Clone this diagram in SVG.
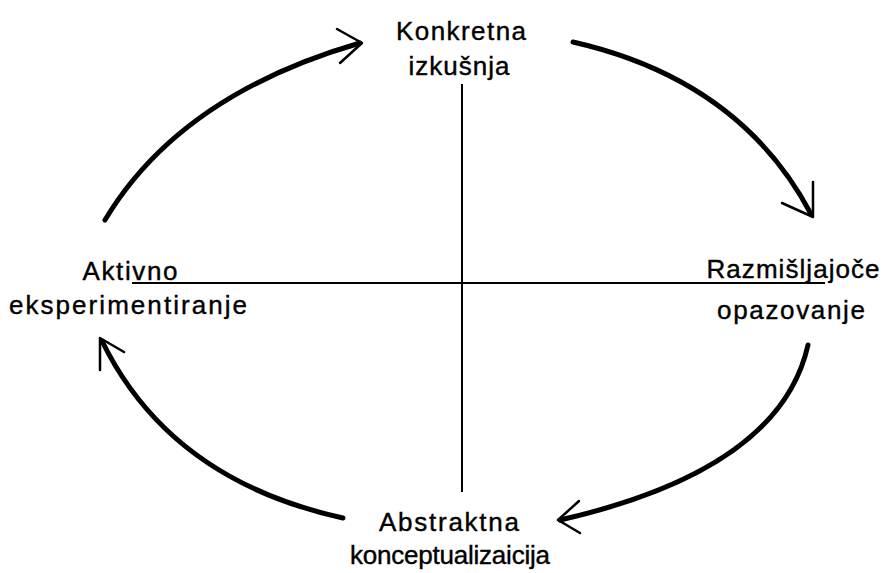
<svg xmlns="http://www.w3.org/2000/svg" width="890" height="573" viewBox="0 0 890 573">
<style>
.lbl{font-family:"Liberation Sans",Arial,sans-serif;font-size:26px;fill:#000;stroke:#000;stroke-width:0.4;text-anchor:middle}
.axis{stroke:#000;stroke-width:2;fill:none}
.arc{stroke:#000;stroke-width:5;fill:none;stroke-linecap:round}
.head{stroke:#000;stroke-width:2.5;fill:none;stroke-linecap:round;stroke-linejoin:round}
</style>
<rect width="890" height="573" fill="#fff"/>
<g id="axes">
<line class="axis" x1="462" y1="84" x2="462" y2="492"/>
<line class="axis" x1="132" y1="283" x2="825" y2="283"/>
</g>
<g id="connectors">
<path class="arc" d="M105,220 Q180,95 360,43"/>
<path class="head" d="M337,29 L362,43 L340,63"/>
<path class="arc" d="M573,42 Q740,80 811,214"/>
<path class="head" d="M813,182 L813,217 L782,203"/>
<path class="arc" d="M808,345 Q780,470 560,520"/>
<path class="head" d="M579,501 L558,520 L580,533"/>
<path class="arc" d="M343,518 Q170,480 102,341"/>
<path class="head" d="M124,352 L100,338 L100,370"/>
</g>
<g id="node-konkretna">
<text class="lbl" x="461" y="40" textLength="130" lengthAdjust="spacing">Konkretna</text>
<text class="lbl" x="459" y="75" textLength="101" lengthAdjust="spacing">izkušnja</text>
</g>
<g id="node-razmisljajoce">
<text class="lbl" x="793" y="278" textLength="173" lengthAdjust="spacing">Razmišljajoče</text>
<text class="lbl" x="791" y="319" textLength="148" lengthAdjust="spacing">opazovanje</text>
</g>
<g id="node-abstraktna">
<text class="lbl" x="449" y="531" textLength="140" lengthAdjust="spacing">Abstraktna</text>
<text class="lbl" x="450" y="564" textLength="200" lengthAdjust="spacing">konceptualizaicija</text>
</g>
<g id="node-aktivno">
<text class="lbl" x="130" y="280" textLength="95" lengthAdjust="spacing">Aktivno</text>
<text class="lbl" x="128" y="314" textLength="238" lengthAdjust="spacing">eksperimentiranje</text>
</g>
</svg>
